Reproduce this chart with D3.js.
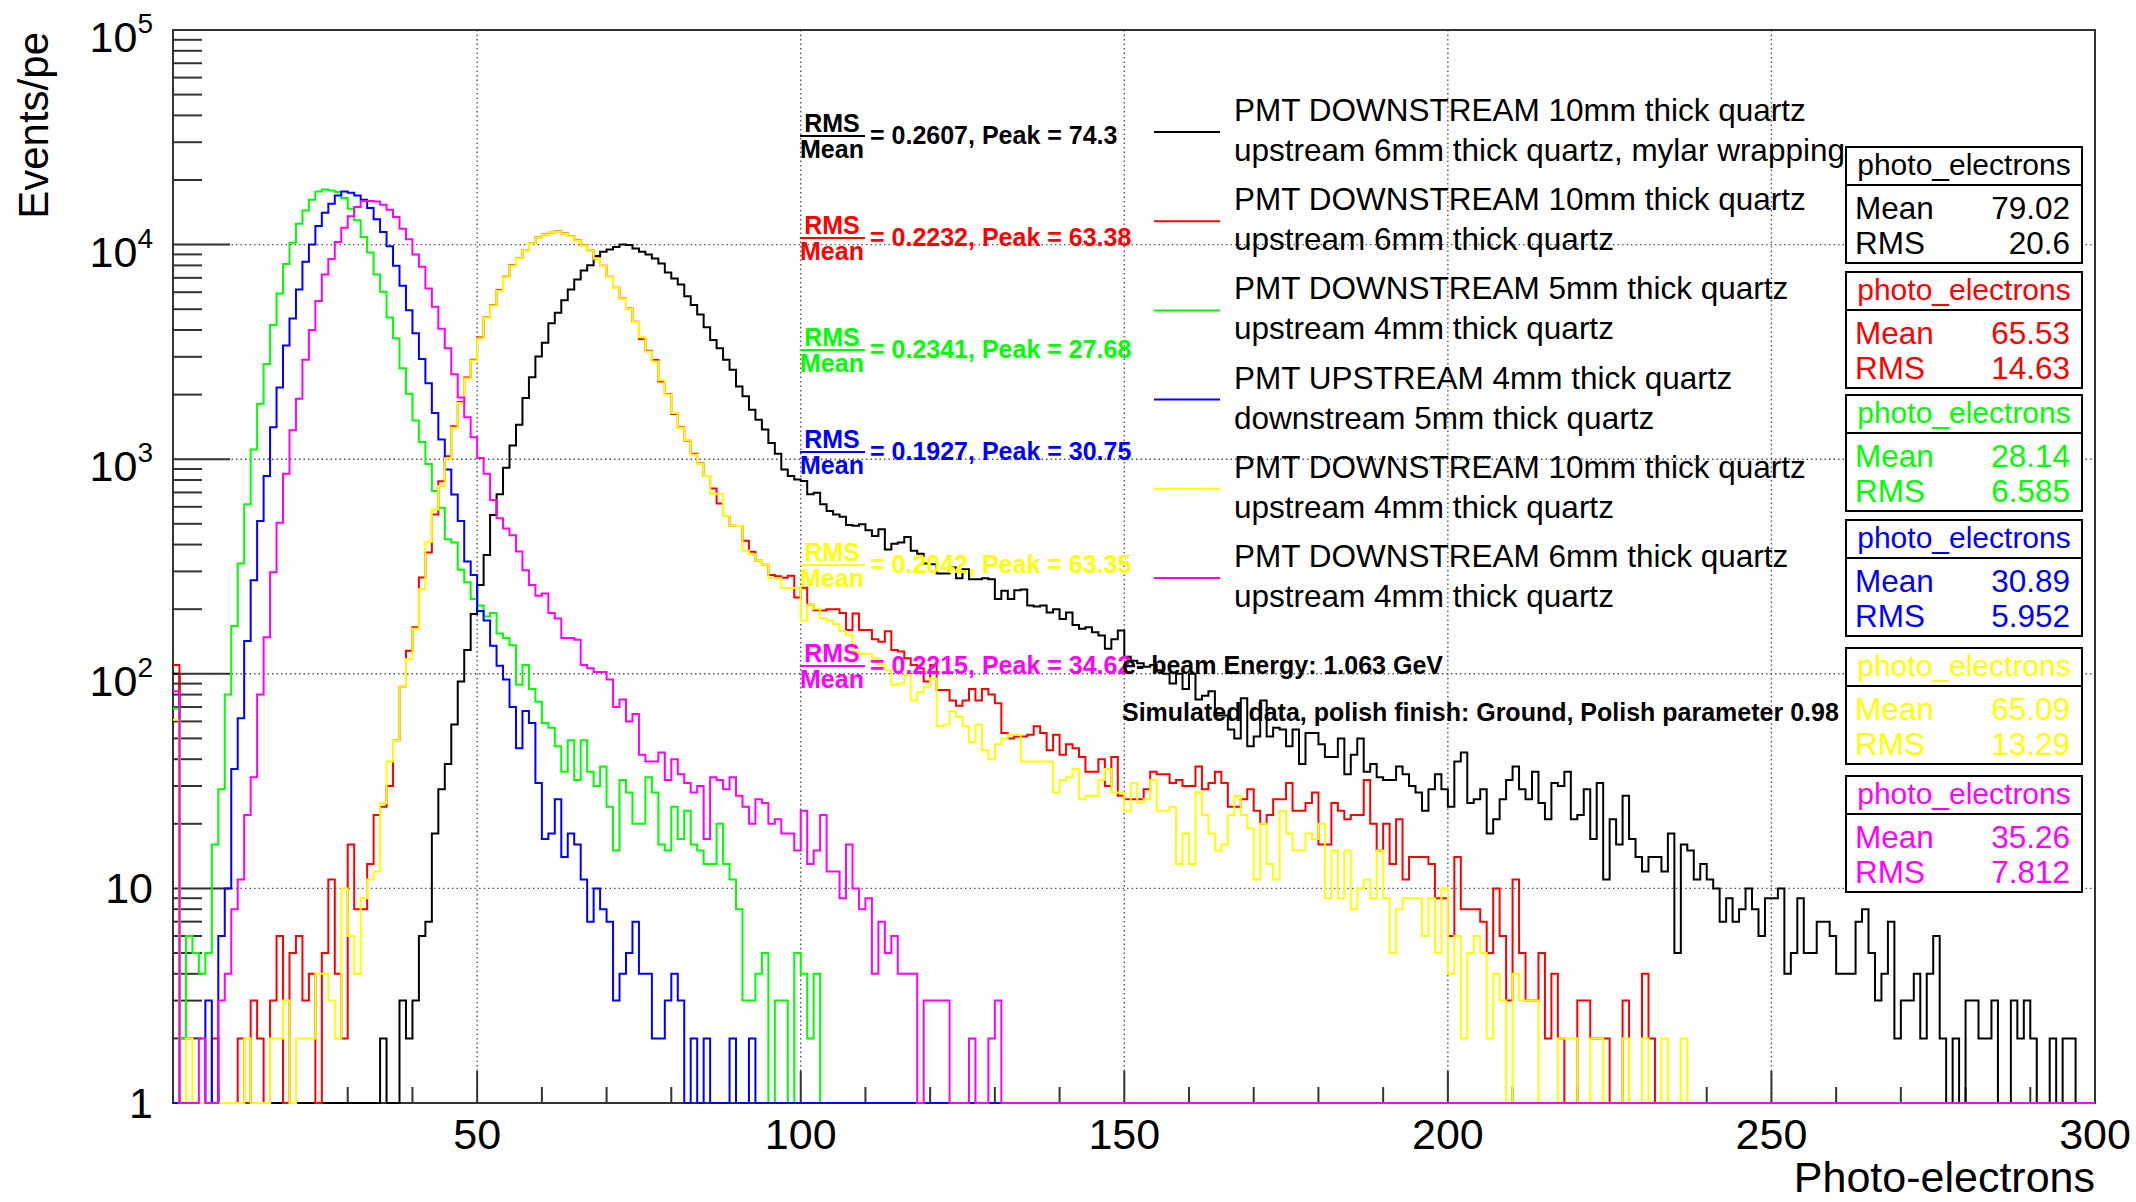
<!DOCTYPE html>
<html>
<head>
<meta charset="utf-8">
<script src="https://cdn.jsdelivr.net/npm/d3@7"></script>
<style>
body { margin: 0; background: #fff; }
svg { display: block; }
</style>
</head>
<body>
<script>
//Width and height
var w = 2136;
var h = 1202;
var frame = {left: 173, right: 2095, top: 30, bottom: 1103};

// histogram binning: 1 p.e. wide bins, first bin starts at 3
var firstBin = 3;
var lastEdge = 300;

// bin contents, one row = 10 bins (3-12, 13-22, ...)
var black = [
    100, 0, 0, 0, 0, 0, 0, 0, 0, 0,
    0, 0, 0, 0, 0, 0, 0, 0, 0, 0,
    0, 0, 0, 0, 0, 0, 0, 0, 0, 0,
    0, 0, 2, 0, 0, 3, 2, 3, 6, 7,
    18, 29, 38, 58, 92, 129, 190, 259, 358, 550,
    686, 912, 1157, 1449, 1927, 2412, 3007, 3493, 4295, 4817,
    5510, 6180, 6875, 7570, 8020, 8860, 9250, 9480, 9750, 10000,
    9970, 9580, 9250, 8990, 8610, 8160, 7410, 6950, 6520, 5750,
    5230, 4730, 4120, 3590, 3290, 2904, 2608, 2181, 1963, 1702,
    1528, 1374, 1191, 1059, 896, 834, 805, 791, 686, 698,
    616, 574, 553, 540, 494, 489, 498, 467, 439, 471,
    380, 404, 409, 434, 374, 363, 327, 324, 293, 293,
    313, 279, 307, 276, 276, 279, 276, 223, 244, 223,
    245, 247, 208, 206, 208, 193, 200, 180, 193, 169,
    162, 165, 156, 151, 131, 145, 159, 120, 115, 112,
    108, 110, 104, 100, 90, 100, 85, 100, 76, 79,
    83, 64, 64, 55, 50, 77, 46, 51, 75, 51,
    56, 55, 46, 55, 38, 53, 53, 47, 41, 41,
    50, 34, 42, 50, 35, 38, 33, 32, 32, 37,
    34, 30, 28, 23, 29, 34, 29, 24, 39, 43,
    25, 26, 29, 18, 21, 26, 32, 37, 29, 26,
    35, 25, 21, 31, 30, 35, 21, 22, 29, 17,
    31, 11, 21, 16, 27, 17, 14, 12, 14, 14,
    12, 18, 5, 16, 15, 11, 13, 11, 10, 7,
    9, 7, 8, 10, 8, 6, 9, 9, 10, 4,
    5, 9, 5, 5, 7, 7, 6, 4, 4, 4,
    7, 8, 5, 3, 4, 7, 2, 3, 3, 4,
    2, 4, 6, 2, 0, 2, 0, 3, 3, 2,
    2, 3, 0, 0, 3, 2, 3, 2, 0, 0,
    2, 0, 2, 2, 0, 0, 0
];

var red = [
    110, 0, 0, 0, 0, 0, 2, 0, 0, 0,
    2, 0, 3, 2, 0, 3, 6, 0, 5, 6,
    3, 4, 0, 5, 11, 4, 2, 16, 8, 8,
    13, 22, 24, 30, 49, 87, 128, 165, 281, 367,
    553, 790, 1032, 1423, 1845, 2404, 2904, 3690, 4580, 5230,
    6140, 7080, 8020, 8670, 9420, 10180, 10780, 11130, 11370, 11530,
    11250, 10970, 10470, 9930, 9420, 8610, 7960, 7080, 6290, 5610,
    5040, 4370, 3630, 3200, 2900, 2301, 2011, 1623, 1409, 1222,
    1060, 955, 834, 731, 621, 543, 489, 488, 417, 370,
    336, 322, 289, 285, 280, 286, 227, 252, 210, 198,
    197, 200, 200, 192, 160, 191, 160, 160, 145, 141,
    158, 129, 127, 118, 110, 106, 92, 110, 84, 84,
    75, 71, 75, 85, 75, 85, 80, 73, 53, 50,
    51, 51, 52, 57, 53, 44, 52, 42, 47, 45,
    41, 35, 35, 40, 30, 41, 27, 26, 26, 26,
    29, 35, 34, 34, 31, 32, 30, 30, 37, 29,
    31, 35, 31, 24, 24, 26, 29, 23, 20, 22,
    26, 26, 31, 23, 23, 25, 28, 16, 16, 25,
    23, 21, 22, 22, 32, 20, 15, 20, 13, 21,
    11, 14, 14, 14, 13, 9, 9, 6, 14, 8,
    8, 8, 7, 5, 10, 6, 3, 11, 5, 3,
    3, 5, 2, 4, 2, 0, 0, 3, 3, 2,
    2, 2, 0, 0, 3, 0, 0, 4, 2, 0
];

var green = [
    69, 2, 6, 5, 4, 5, 16, 29, 80, 167,
    327, 617, 1109, 1814, 2774, 4219, 5918, 8110, 10210, 12520,
    14430, 16180, 17700, 18080, 17870, 17570, 16480, 14700, 12970, 10860,
    9180, 7260, 6030, 4580, 3660, 2655, 2018, 1513, 1203, 951,
    710, 594, 424, 409, 305, 267, 223, 208, 185, 192,
    154, 147, 136, 89, 110, 85, 74, 59, 56, 46,
    35, 49, 32, 49, 35, 30, 37, 24, 15, 32,
    28, 20, 20, 33, 28, 16, 15, 24, 17, 23,
    16, 15, 13, 13, 20, 13, 11, 8, 3, 3,
    4, 5, 0, 3, 3, 0, 5, 4, 2, 4
];

var blue = [
    0, 0, 0, 0, 0, 3, 0, 6, 10, 36,
    62, 142, 273, 515, 834, 1409, 2160, 3383, 4530, 6180,
    8310, 10000, 12210, 14090, 15510, 16950, 17700, 17430, 16950, 16180,
    14800, 13130, 11460, 9820, 7960, 6430, 4950, 3860, 2934, 2260,
    1640, 1234, 895, 685, 515, 334, 289, 196, 177, 135,
    109, 94, 70, 45, 67, 59, 31, 17, 18, 26,
    14, 18, 16, 11, 7, 10, 8, 7, 3, 4,
    5, 7, 4, 4, 2, 2, 3, 4, 3, 0,
    2, 0, 2, 0, 0, 0, 2, 0, 0, 2
];

var yellow = [
    61, 0, 2, 0, 0, 0, 0, 0, 0, 0,
    0, 2, 0, 0, 0, 2, 2, 3, 0, 2,
    2, 2, 4, 4, 3, 2, 10, 6, 4, 9,
    11, 12, 25, 39, 49, 87, 117, 162, 248, 412,
    583, 750, 1010, 1400, 1830, 2380, 2880, 3650, 4550, 5200,
    6100, 7050, 7980, 8640, 9400, 10150, 10750, 11100, 11350, 11500,
    11230, 10950, 10450, 9900, 9400, 8600, 7940, 7060, 6270, 5600,
    5020, 4360, 3700, 3180, 2851, 2330, 2000, 1640, 1400, 1230,
    1050, 951, 834, 690, 686, 543, 489, 488, 374, 360,
    336, 322, 279, 279, 251, 251, 251, 177, 210, 201,
    181, 177, 170, 158, 152, 127, 124, 124, 118, 110,
    104, 89, 90, 99, 75, 82, 87, 95, 57, 58,
    67, 63, 57, 48, 58, 44, 40, 47, 50, 52,
    52, 39, 39, 39, 39, 39, 28, 32, 33, 36,
    26, 27, 27, 32, 36, 28, 28, 23, 31, 25,
    26, 32, 23, 23, 24, 13, 18, 13, 28, 22,
    18, 15, 16, 22, 27, 22, 19, 11, 20, 13,
    11, 23, 18, 15, 15, 18, 17, 20, 9, 15,
    9, 15, 8, 10, 11, 9, 15, 9, 5, 8,
    9, 9, 9, 6, 9, 5, 10, 4, 6, 2,
    5, 6, 5, 2, 4, 3, 0, 4, 3, 3,
    3, 0, 0, 0, 2, 2, 2, 0, 0, 2,
    2, 0, 0, 0, 2, 0, 0, 2, 0, 0,
    2, 0, 0, 2
];

var magenta = [
    83, 0, 0, 0, 2, 0, 0, 3, 4, 8,
    11, 22, 33, 80, 148, 297, 506, 855, 1365, 1915,
    2904, 4000, 5460, 7260, 8560, 10290, 11990, 13540, 14970, 15960,
    15960, 15900, 15340, 14550, 13440, 11860, 10590, 8990, 7880, 6250,
    5140, 4050, 3290, 2490, 1940, 1567, 1265, 1014, 855, 645,
    531, 475, 442, 371, 304, 259, 231, 237, 192, 181,
    147, 147, 144, 110, 106, 102, 102, 94, 70, 76,
    60, 65, 42, 39, 39, 43, 32, 40, 34, 31,
    28, 30, 17, 33, 32, 29, 33, 27, 24, 20,
    26, 25, 20, 21, 18, 18, 15, 23, 13, 15,
    22, 12, 12, 9, 16, 10, 8, 9, 4, 7,
    5, 6, 4, 4, 4, 0, 3, 3, 3, 3,
    0, 0, 0, 2, 0, 0, 2, 3
];

var seriesData = [black, red, green, blue, yellow, magenta];
var colors = ["#000000", "#ff0000", "#00ff00", "#0000ff", "#ffff00", "#ff00ff"];

var legendText = [
    ["PMT DOWNSTREAM 10mm thick quartz", "upstream 6mm thick quartz, mylar wrapping"],
    ["PMT DOWNSTREAM 10mm thick quartz", "upstream 6mm thick quartz"],
    ["PMT DOWNSTREAM 5mm thick quartz", "upstream 4mm thick quartz"],
    ["PMT UPSTREAM 4mm thick quartz", "downstream 5mm thick quartz"],
    ["PMT DOWNSTREAM 10mm thick quartz", "upstream 4mm thick quartz"],
    ["PMT DOWNSTREAM 6mm thick quartz", "upstream 4mm thick quartz"]
];
var ratioText = ["= 0.2607, Peak = 74.3", "= 0.2232, Peak = 63.38", "= 0.2341, Peak = 27.68",
    "= 0.1927, Peak = 30.75", "= 0.2042, Peak = 63.35", "= 0.2215, Peak = 34.62"];
var statMean = ["79.02", "65.53", "28.14", "30.89", "65.09", "35.26"];
var statRms = ["20.6", "14.63", "6.585", "5.952", "13.29", "7.812"];

var xTicks = [50, 100, 150, 200, 250, 300];
var yTicks = [1, 10, 100, 1000, 10000, 100000];

// layout positions (pixels)
var ratioY = [135, 237, 349, 451, 564, 665];
var statTop = [147, 272, 395, 520, 648, 776];

var font = "'Liberation Sans', Arial, Helvetica, sans-serif";

var xScale = d3.scaleLinear()
    .domain([firstBin, lastEdge])
    .range([frame.left, frame.right]);

var yScale = d3.scaleLog()
    .domain([1, 1e5])
    .range([frame.bottom, frame.top])
    .clamp(true);

//Create SVG element
var svg = d3.select("body")
    .append("svg")
    .attr("width", w)
    .attr("height", h)
    .style("font-family", font);

svg.append("rect").attr("width", w).attr("height", h).attr("fill", "#fff");

// dotted grid
var gridX = [50, 100, 150, 200, 250];
var gridY = [10, 100, 1000, 10000];
svg.selectAll(".gx").data(gridX).enter().append("line")
    .attr("x1", d => xScale(d)).attr("x2", d => xScale(d))
    .attr("y1", frame.top).attr("y2", frame.bottom)
    .attr("stroke", "#555").attr("stroke-width", 1.4).attr("stroke-dasharray", "1.5,3");
svg.selectAll(".gy").data(gridY).enter().append("line")
    .attr("x1", frame.left).attr("x2", frame.right)
    .attr("y1", d => yScale(d)).attr("y2", d => yScale(d))
    .attr("stroke", "#555").attr("stroke-width", 1.4).attr("stroke-dasharray", "1.5,3");

// frame box
svg.append("rect")
    .attr("x", frame.left).attr("y", frame.top)
    .attr("width", frame.right - frame.left).attr("height", frame.bottom - frame.top)
    .attr("fill", "none").attr("stroke", "#333").attr("stroke-width", 2);

// y ticks (log): major at decades, minor at 2..9
var yMinor = [];
for (var p = 0; p < 5; p++) {
    for (var k = 2; k < 10; k++) yMinor.push(k * Math.pow(10, p));
}
svg.selectAll(".ytm").data(yMinor).enter().append("line")
    .attr("x1", frame.left).attr("x2", frame.left + 29)
    .attr("y1", d => yScale(d)).attr("y2", d => yScale(d))
    .attr("stroke", "#333").attr("stroke-width", 2);
svg.selectAll(".ytM").data(yTicks).enter().append("line")
    .attr("x1", frame.left).attr("x2", frame.left + 57)
    .attr("y1", d => yScale(d)).attr("y2", d => yScale(d))
    .attr("stroke", "#333").attr("stroke-width", 2);

// x ticks
var xMinor = d3.range(10, 300, 10).filter(d => d % 50 != 0);
svg.selectAll(".xtm").data(xMinor).enter().append("line")
    .attr("x1", d => xScale(d)).attr("x2", d => xScale(d))
    .attr("y1", frame.bottom).attr("y2", frame.bottom - 16)
    .attr("stroke", "#333").attr("stroke-width", 2);
svg.selectAll(".xtM").data(xTicks).enter().append("line")
    .attr("x1", d => xScale(d)).attr("x2", d => xScale(d))
    .attr("y1", frame.bottom).attr("y2", frame.bottom - 32)
    .attr("stroke", "#333").attr("stroke-width", 2);

// histograms, drawn as steps
svg.append("clipPath").attr("id", "clip")
    .append("rect")
    .attr("x", frame.left).attr("y", frame.top - 1)
    .attr("width", frame.right - frame.left).attr("height", frame.bottom - frame.top + 2);

function steps(vals) {
    var pts = [];
    for (var b = firstBin; b < lastEdge; b++) {
        var v = vals[b - firstBin] || 0;
        var yy = yScale(Math.max(v, 1));
        pts.push([xScale(b), yy], [xScale(b + 1), yy]);
    }
    return d3.line()(pts);
}

svg.append("g").attr("clip-path", "url(#clip)")
    .selectAll("path")
    .data(seriesData)
    .enter()
    .append("path")
    .attr("d", d => steps(d))
    .attr("fill", "none")
    .attr("stroke", (d, i) => colors[i])
    .attr("stroke-width", 2)
    .attr("stroke-linejoin", "miter");

// axis labels
svg.selectAll(".xl").data(xTicks).enter().append("text")
    .attr("x", d => xScale(d))
    .attr("y", 1149)
    .attr("text-anchor", "middle")
    .attr("font-size", "43px")
    .text(d => d);

yTicks.forEach(function (d, i) {
    var t = svg.append("text")
        .attr("x", 153)
        .attr("text-anchor", "end")
        .attr("font-size", "43px");
    if (i < 2) {
        t.attr("y", yScale(d) + 15).text(d);
    } else {
        t.attr("y", yScale(d) + 22);
        t.append("tspan").text("10");
        t.append("tspan").attr("dy", -19).attr("font-size", "28px").text(i);
    }
});

svg.append("text")
    .attr("transform", "translate(48," + 32 + ") rotate(-90)")
    .attr("text-anchor", "end")
    .attr("font-size", "42px")
    .text("Events/pe");

svg.append("text")
    .attr("x", frame.right)
    .attr("y", 1192)
    .attr("text-anchor", "end")
    .attr("font-size", "43px")
    .text("Photo-electrons");

// RMS/Mean annotations
ratioText.forEach(function (txt, i) {
    var cy = ratioY[i];
    var g = svg.append("g")
        .attr("fill", colors[i])
        .attr("font-weight", "bold")
        .attr("font-size", "25px");
    g.append("text").attr("x", 832).attr("y", cy - 3).attr("text-anchor", "middle").text("RMS");
    g.append("line").attr("x1", 800).attr("x2", 865).attr("y1", cy + 1).attr("y2", cy + 1)
        .attr("stroke", colors[i]).attr("stroke-width", 2);
    g.append("text").attr("x", 832).attr("y", cy + 23).attr("text-anchor", "middle").text("Mean");
    g.append("text").attr("x", 870).attr("y", cy + 9).text(txt);
});

svg.append("text")
    .attr("x", 1122).attr("y", 674)
    .attr("font-weight", "bold").attr("font-size", "25px")
    .text("e- beam Energy: 1.063 GeV");
svg.append("text")
    .attr("x", 1122).attr("y", 721)
    .attr("font-weight", "bold").attr("font-size", "25px")
    .text("Simulated data, polish finish: Ground, Polish parameter 0.98");

// legend
legendText.forEach(function (lines, i) {
    var sy = 132 + i * 89.2;
    svg.append("line")
        .attr("x1", 1154).attr("x2", 1220)
        .attr("y1", sy).attr("y2", sy)
        .attr("stroke", colors[i]).attr("stroke-width", 2);
    svg.append("text").attr("x", 1234).attr("y", sy - 11)
        .attr("font-size", "31.5px").text(lines[0]);
    svg.append("text").attr("x", 1234).attr("y", sy + 29)
        .attr("font-size", "31.5px").text(lines[1]);
});

// stats boxes
statTop.forEach(function (top, i) {
    var g = svg.append("g").attr("fill", colors[i]);
    g.append("rect")
        .attr("x", 1846).attr("y", top)
        .attr("width", 2082 - 1846).attr("height", 116)
        .attr("fill", "#fff").attr("stroke", "#000").attr("stroke-width", 2);
    g.append("line")
        .attr("x1", 1846).attr("x2", 2082)
        .attr("y1", top + 38).attr("y2", top + 38)
        .attr("stroke", "#000").attr("stroke-width", 2);
    g.append("text").attr("x", 1964).attr("y", top + 28)
        .attr("text-anchor", "middle").attr("font-size", "30px").text("photo_electrons");
    g.append("text").attr("x", 1855).attr("y", top + 72)
        .attr("font-size", "31.5px").text("Mean");
    g.append("text").attr("x", 2070).attr("y", top + 72)
        .attr("text-anchor", "end").attr("font-size", "31.5px").text(statMean[i]);
    g.append("text").attr("x", 1855).attr("y", top + 107)
        .attr("font-size", "31.5px").text("RMS");
    g.append("text").attr("x", 2070).attr("y", top + 107)
        .attr("text-anchor", "end").attr("font-size", "31.5px").text(statRms[i]);
});
</script>
</body>
</html>
